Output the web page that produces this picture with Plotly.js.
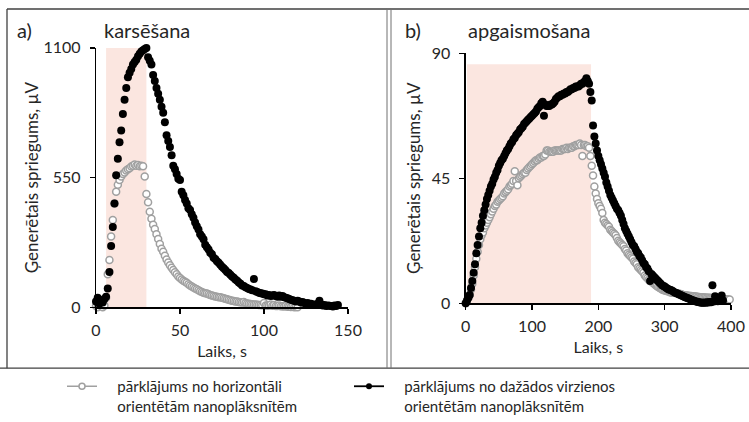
<!DOCTYPE html>
<html>
<head>
<meta charset="utf-8">
<script src="https://cdn.plot.ly/plotly-3.0.1.min.js"></script>
<style>html,body{margin:0;padding:0;background:#fff;}#chart{width:749px;height:422px;}</style>
</head>
<body>
<div id="chart"></div>
<script>
// ---------- DATA ----------
const seriesNames = [
  "pārklājums no horizontāli<br>orientētām nanoplāksnītēm",
  "pārklājums no dažādos virzienos<br>orientētām nanoplāksnītēm"
];
const panelTitles = ["karsēšana", "apgaismošana"];
const panelLetters = ["a)", "b)"];
const xTitle = "Laiks, s";
const yTitle = "Ģenerētais spriegums, µV";

// panel a (heating): sampled every 1 s starting at 0 s
const aStart = 0, aStep = 1;
const aHeatPeriod = [6, 30];
const aTicksY = [0, 550, 1100];
const aTicksX = [0, 50, 100, 150];
const aGray = [5,0,10,5,0,8,40,140,200,300,
  370,440,490,520,540,555,565,572,580,585,
  590,597,600,605,600,603,598,600,598,555,
  480,445,405,375,350,332,310,290,268,248,
  235,218,203,190,178,168,158,148,140,130,
  124,118,112,108,104,98,92,88,84,80,
  76,72,68,65,62,60,58,55,52,50,
  48,46,45,43,42,40,38,36,34,32,
  30,28,27,25,24,22,21,20,22,18,
  16,15,14,13,12,12,11,10,10,9,
  18,8,8,7,12,6,10,5,5,8,
  4,4,3,5,2,2,1,3,0,1,0];
const aBlack = [25,40,15,30,20,35,45,80,150,260,
  340,440,560,630,700,750,820,880,930,975,
  995,1010,1030,1040,1050,1065,1075,1085,1090,1095,
  1100,1060,1045,1030,985,960,930,905,880,850,
  825,785,730,705,680,645,600,585,565,545,
  540,490,475,455,440,420,412,395,380,360,
  344,330,310,300,288,265,255,245,231,225,
  210,205,195,189,180,172,165,158,150,145,
  138,130,125,118,112,105,100,92,90,85,
  82,78,75,72,120,68,65,62,60,58,
  55,55,50,52,48,50,52,48,45,50,
  45,48,42,40,38,35,32,30,28,25,
  28,25,20,22,18,15,18,12,15,10,
  12,10,15,28,12,8,10,5,8,6,
  5,3,8,5,10];

// panel b (illumination): sampled every 2 s starting at 0 s
const bStart = 0, bStep = 2;
const bLightPeriod = [2, 189];
const bShadeTop = 86;
const bTicksY = [0, 45, 90];
const bTicksX = [0, 100, 200, 300, 400];
const bGray = [0,1,2,3,5, 7,10,13,16,18.5, 21,23,24.5,25.5,27, 28,29,30,31,32,
  33,34,35,35.5,36.5, 37,37.5,38,38.5,39.5, 40,40.5,41,42,42.5, 43,44,47.5,44,42.5,
  45,45.5,46,46.5,47, 47,48,48.5,49,49.5, 50,50.5,51,51.5,51.5, 52,52.5,52.5,53,53,
  53.5,55,55,54.5,54.5, 54.5,54.5,55,55,55, 55,55,55,55.5,55.5, 55.5,56,55.5,56,56,
  56,56.5,56.5,57,57, 57,57.5,57,53,57, 57,56.5,56.5,56,53, 49.5,46,42,39.5,37.5,
  36,35,34,32.5,30, 29,28.5,28,27.5,26.5, 26,25.5,25,24.5,23.5, 22.5,22,21.5,21,20.5,
  19.5,19,18,17.5,17, 16.5,16,15,14.5,14, 13,12.5,12,11.5,11, 10,9.5,9,8.5,8,
  7.8,7.4,7,6.6,6.2, 5.9,5.6,5.3,5,4.8, 4.6,4.5,4.3,4.2,4, 3.9,3.8,3.8,3.7,3.6,
  3.5,3.4,3.3,3.2,3, 2.9,2.8,2.8,2.7,2.6, 2.6,2.5,2.5,2.4,2.4, 2.3,2.3,2.2,2.2,2.2,
  2.1,2.1,2,2,2, 1.9,1.9,1.8,1.8,1.7, 1.7,1.6,1.6,1.5,1.5, 1.5,1.4,1.4,1.4,1.4];
const bBlack = [0,1,2,3,5.5, 8,11,14,18,21, 24,27,29,31.5,33.5, 35.5,37.5,39,40.5,42,
  43,44.5,45.5,47,48, 49.5,50.5,51.5,52,53, 54,55,55.5,56.5,57.5, 58,59,59.5,60.5,61,
  61.5,62.5,63,63.5,64.5, 65,65.5,66,66.5,67, 67.5,68,68.5,69,70, 70.5,71,72,72.5,67.5,
  71.5,71,71,71,71.5, 71.5,72,72.5,73.5,74, 74.5,74.5,75,75,75.5, 75.5,76,76,76.5,77,
  77,77.5,77.5,78,78, 78,78.5,79,79,79.5, 80,81,80,79,76, 73,64,60,57.5,55,
  53,51.5,50,48.5,47, 45.5,43.5,42,40.5,39, 38,37,36,35,34, 33.5,32.5,31.5,30,28.5,
  27,26,25,24,23, 22,21,20.5,19.5,18.5, 18,17,16.5,15.5,14.5, 14,13,12.5,11.5,8,
  10.5,10,9.5,9,8.5, 8,7.5,7,6.5,6.2, 6,5.6,5.3,5,4.9, 4.7,4.4,4.1,3.8,3.6,
  3.4,3.2,3,2.7,2.5, 2.3,2.1,1.9,1.7,1.5, 1.3,1.1,0.9,0.7,0.6, 0.5,0.4,0.3,0.2,0.2,
  0.3,0.2,0.4,0.3,0.5, 0.4,6.5,0.6,2.5,0.8, 0.7,1.5,0.9,2.8,1];

// ---------- STYLE ----------
const FONT = "Lato, 'Open Sans', 'DejaVu Sans', sans-serif";
const TXT = "#262626";
const GRAY = "#a0a0a0";
const PINK = "#fbe6e0";
const grayMarker = {symbol: "circle", size: 7, color: "#ffffff", line: {color: GRAY, width: 1.5}};
const blackMarker = {symbol: "circle", size: 8, color: "#000000", line: {width: 0}};
const PAD = "\u00a0\u00a0\u00a0\u00a0";
const legendName = s => s.split("<br>").map(l => PAD + l).join("<br>");

const traces = [
  {type: "scatter", mode: "markers", x0: aStart, dx: aStep, y: aGray, xaxis: "x", yaxis: "y",
   marker: grayMarker, showlegend: false, cliponaxis: false, hoverinfo: "x+y"},
  {type: "scatter", mode: "markers", x0: aStart, dx: aStep, y: aBlack, xaxis: "x", yaxis: "y",
   marker: blackMarker, showlegend: false, cliponaxis: false, hoverinfo: "x+y"},
  {type: "scatter", mode: "markers", x0: bStart, dx: bStep, y: bGray, xaxis: "x2", yaxis: "y2",
   marker: grayMarker, showlegend: false, cliponaxis: false, hoverinfo: "x+y"},
  {type: "scatter", mode: "markers", x0: bStart, dx: bStep, y: bBlack, xaxis: "x2", yaxis: "y2",
   marker: blackMarker, showlegend: false, cliponaxis: false, hoverinfo: "x+y"},
  // legend entries
  {type: "scatter", mode: "lines+markers", x: [null], y: [null], name: legendName(seriesNames[0]),
   line: {color: GRAY, width: 1.5}, marker: {symbol: "circle", size: 6, color: "#ffffff", line: {color: GRAY, width: 1.5}}},
  {type: "scatter", mode: "lines+markers", x: [null], y: [null], name: legendName(seriesNames[1]),
   line: {color: "#000000", width: 1.8}, marker: {symbol: "circle", size: 6, color: "#000000"}}
];

const W = 749, H = 422;
const px = v => v / W, py = v => 1 - v / H;

function axisX(domain, range, ticks, anchor) {
  return {domain, range, tickvals: ticks, ticktext: ticks.map(String), anchor,
    showline: true, linecolor: "#000", linewidth: 1.3, ticks: "outside", ticklen: 5,
    tickcolor: "#000", tickwidth: 1.3, showgrid: false, zeroline: false, ticklabelstandoff: 3,
    tickfont: {family: FONT, size: 16, color: TXT},
    title: {text: xTitle, font: {family: FONT, size: 16, color: TXT}, standoff: 8}};
}
function axisY(domain, range, ticks, anchor, standoff) {
  return {domain, range, tickvals: ticks, ticktext: ticks.map(String), anchor,
    showline: true, linecolor: "#000", linewidth: 1.3, ticks: "outside", ticklen: 5,
    tickcolor: "#000", tickwidth: 1.3, showgrid: false, zeroline: false, ticklabelstandoff: 6,
    tickfont: {family: FONT, size: 16, color: TXT},
    title: {text: yTitle, font: {family: FONT, size: 17, color: TXT}, standoff}};
}

const BORDER = {color: "#404040", width: 1.3};
const ann = (x, y, text) => ({xref: "paper", yref: "paper", x: px(x), y: py(y), xanchor: "center", yanchor: "middle",
  text, showarrow: false, font: {family: FONT, size: 20, color: TXT}});
const layout = {
  width: W, height: H, margin: {l: 0, r: 0, t: 0, b: 0},
  paper_bgcolor: "#fff", plot_bgcolor: "rgba(0,0,0,0)",
  font: {family: FONT, color: TXT},
  xaxis: axisX([px(96), px(348)], [0, 150], aTicksX, "y"),
  yaxis: axisY([py(308), py(48)], [0, 1100], aTicksY, "x", 0),
  xaxis2: axisX([px(465.7), px(731)], [0, 400], bTicksX, "y2"),
  yaxis2: axisY([py(304), py(53.3)], [0, 90], bTicksY, "x2", 6),
  shapes: [
    {type: "rect", xref: "x", yref: "y", x0: aHeatPeriod[0], x1: aHeatPeriod[1], y0: 0, y1: aTicksY[2],
     fillcolor: PINK, line: {width: 0}, layer: "below"},
    {type: "rect", xref: "x2", yref: "y2", x0: bLightPeriod[0], x1: bLightPeriod[1], y0: 0, y1: bShadeTop,
     fillcolor: PINK, line: {width: 0}, layer: "below"},
    // frame
    {type: "line", xref: "paper", yref: "paper", x0: px(7), x1: 1, y0: py(9), y1: py(9), line: BORDER},
    {type: "line", xref: "paper", yref: "paper", x0: px(7), x1: px(7), y0: py(9), y1: py(369), line: BORDER},
    {type: "line", xref: "paper", yref: "paper", x0: 0, x1: 1, y0: py(369), y1: py(369), line: BORDER},
    {type: "line", xref: "paper", yref: "paper", x0: px(387), x1: px(387), y0: py(9), y1: py(369), line: {color: "#707070", width: 1}},
    {type: "line", xref: "paper", yref: "paper", x0: px(391), x1: px(391), y0: py(9), y1: py(369), line: {color: "#707070", width: 1}}
  ],
  annotations: [
    ann(24, 30, panelLetters[0]),
    ann(147, 30, panelTitles[0]),
    ann(413, 30, panelLetters[1]),
    ann(529, 30, panelTitles[1])
  ],
  showlegend: true,
  legend: {orientation: "h", x: px(62), y: py(371), xanchor: "left", yanchor: "top",
    entrywidth: 242, entrywidthmode: "pixels", valign: "top",
    font: {family: FONT, size: 15, color: TXT}, bgcolor: "rgba(0,0,0,0)", borderwidth: 0, itemclick: false}
};

Plotly.newPlot("chart", traces, layout, {staticPlot: true, displayModeBar: false});
</script>
</body>
</html>
